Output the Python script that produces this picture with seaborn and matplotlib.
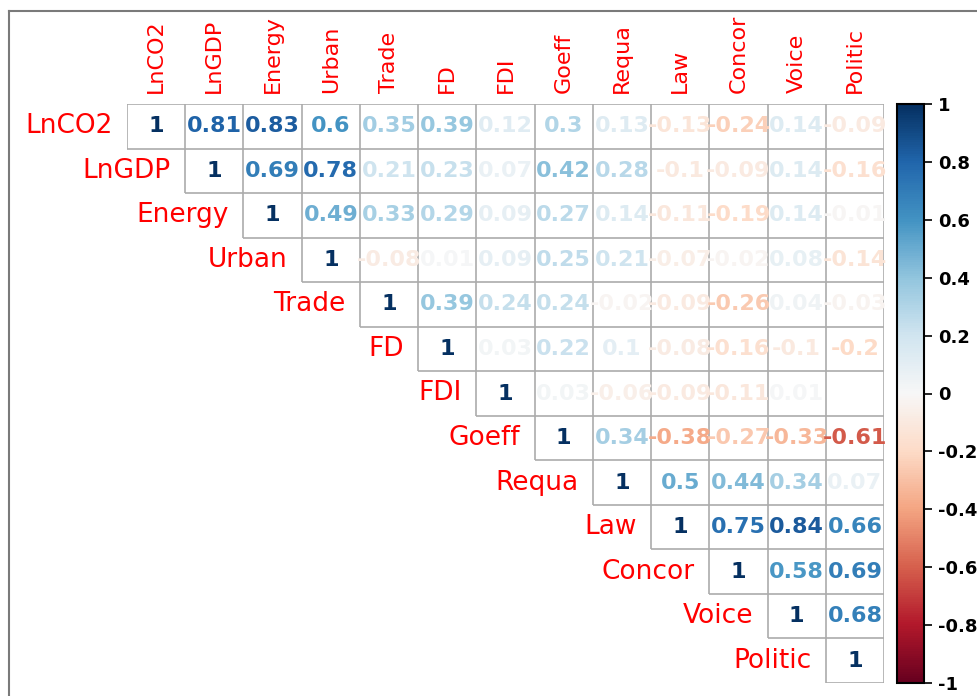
import numpy as np
import pandas as pd
import seaborn as sns
import matplotlib.pyplot as plt
from matplotlib.colors import ListedColormap, Normalize
from matplotlib.lines import Line2D
import matplotlib as mpl

variables = ['LnCO2', 'LnGDP', 'Energy', 'Urban', 'Trade', 'FD', 'FDI',
             'Goeff', 'Requa', 'Law', 'Concor', 'Voice', 'Politic']

# upper triangle, row by row (diagonal included)
r_lnco2 = [1, 0.81, 0.83, 0.6, 0.35, 0.39, 0.12, 0.3, 0.13, -0.13, -0.24, 0.14, -0.09]
r_lngdp = [1, 0.69, 0.78, 0.21, 0.23, 0.07, 0.42, 0.28, -0.1, -0.09, 0.14, -0.16]
r_energy = [1, 0.49, 0.33, 0.29, 0.09, 0.27, 0.14, -0.11, -0.19, 0.14, -0.01]
r_urban = [1, -0.08, 0.01, 0.09, 0.25, 0.21, -0.07, -0.02, 0.08, -0.14]
r_trade = [1, 0.39, 0.24, 0.24, -0.02, -0.09, -0.26, 0.04, -0.03]
r_fd = [1, 0.03, 0.22, 0.1, -0.08, -0.16, -0.1, -0.2]
r_fdi = [1, 0.03, -0.06, -0.09, -0.11, 0.01, 0]
r_goeff = [1, 0.34, -0.38, -0.27, -0.33, -0.61]
r_requa = [1, 0.5, 0.44, 0.34, 0.07]
r_law = [1, 0.75, 0.84, 0.66]
r_concor = [1, 0.58, 0.69]
r_voice = [1, 0.68]
r_politic = [1]

rows = [r_lnco2, r_lngdp, r_energy, r_urban, r_trade, r_fd, r_fdi,
        r_goeff, r_requa, r_law, r_concor, r_voice, r_politic]

n = len(variables)
mat = np.full((n, n), np.nan)
for i, r in enumerate(rows):
    mat[i, i:] = r
    mat[i:, i] = r
corr = pd.DataFrame(mat, index=variables, columns=variables)
mask = np.tril(np.ones((n, n), dtype=bool), k=-1)
labels = corr.map(lambda v: f"{v:g}" if v != 0 else "")

fig = plt.figure(figsize=(9.77, 6.96), dpi=100)
W, H = 977, 696
ax = fig.add_axes([127 / W, 1 - 683 / H, (884 - 127) / W, (683 - 104) / H])

sns.heatmap(corr, mask=mask, cmap=ListedColormap(['white']), cbar=False,
            linewidths=0, annot=labels, fmt='',
            annot_kws={'fontsize': 16, 'fontweight': 'bold'},
            xticklabels=variables, yticklabels=False, ax=ax)

# cell borders of the upper triangle (staircase grid)
gridc = '#ababab'
for k in range(n + 1):
    ax.hlines(k, max(k - 1, 0), n, color=gridc, lw=1.2, zorder=1)
    ax.vlines(k, 0, min(k + 1, n), color=gridc, lw=1.2, zorder=1)

cmap = mpl.colormaps['RdBu']
norm = Normalize(-1, 1)
for t in ax.texts:
    if t.get_text():
        t.set_color(cmap(norm(float(t.get_text()))))
        t.set_zorder(3)

ax.xaxis.tick_top()
ax.tick_params(axis='x', top=True, labeltop=True, bottom=False,
               labelbottom=False, length=0, pad=8)
for lab in ax.get_xticklabels():
    lab.set_rotation(90)
    lab.set_color('red')
    lab.set_fontsize(16)
    lab.set_va('bottom')

for i, name in enumerate(variables):
    ax.text(i - 0.25, i + 0.5, name, ha='right', va='center',
            color='red', fontsize=19)

# colorbar
cax = fig.add_axes([897 / W, 1 - 683 / H, 27 / W, (683 - 104) / H])
sm = mpl.cm.ScalarMappable(norm=norm, cmap=cmap)
ticks = np.round(np.arange(-1, 1.01, 0.2), 1) + 0.0
cb = fig.colorbar(sm, cax=cax, ticks=ticks)
cb.ax.set_yticklabels([f"{v:g}" if abs(v) > 1e-9 else "0" for v in ticks],
                      fontsize=13, fontweight='bold')
cb.ax.tick_params(length=6, width=1.2, color='black', pad=4)
cb.outline.set_linewidth(1.5)
cb.outline.set_edgecolor('black')

# page frame
fig.add_artist(Line2D([9 / W, 1], [1 - 11 / H, 1 - 11 / H], transform=fig.transFigure,
                      color='#7a7a7a', lw=1.5))
fig.add_artist(Line2D([9 / W, 9 / W], [0, 1 - 11 / H], transform=fig.transFigure,
                      color='#7a7a7a', lw=1.5))

fig.savefig('out.png', dpi=100)
